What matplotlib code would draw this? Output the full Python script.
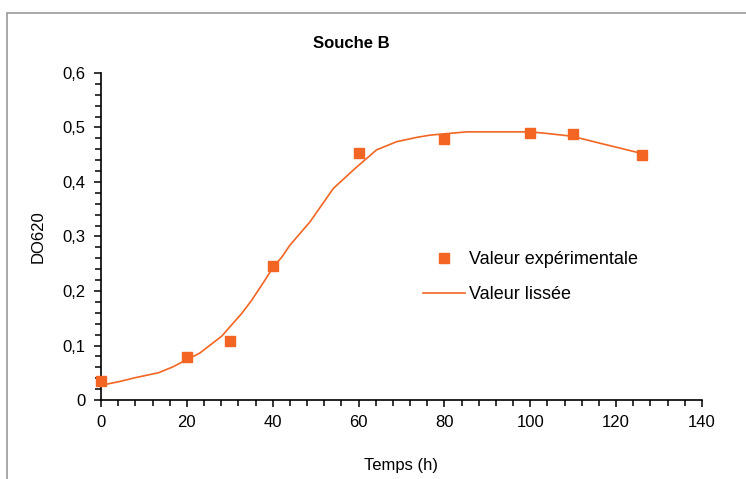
import matplotlib.pyplot as plt
import matplotlib.ticker as mticker
from matplotlib.patches import Rectangle

plt.rcParams['font.family'] = ['Liberation Sans', 'DejaVu Sans']

# valeurs experimentales
t_exp = [0, 20, 30, 40, 60, 80, 100, 110, 126]
do_exp = [0.034, 0.078, 0.109, 0.245, 0.454, 0.478, 0.490, 0.488, 0.450]

# courbe lissee
t_lis = [0, 4.4, 8, 13.4, 16.8, 20.2, 23, 28.1, 32.8, 35.1, 38.2, 40.2, 42.1, 44.0,
         48.7, 54.1, 59.2, 64.2, 68.9, 73.6, 76.7, 85.2, 92, 100, 104, 109.7,
         116.3, 121, 125.6]
do_lis = [0.027, 0.034, 0.041, 0.050, 0.061, 0.075, 0.086, 0.117, 0.159, 0.183,
          0.220, 0.245, 0.262, 0.284, 0.327, 0.388, 0.425, 0.459, 0.474, 0.482,
          0.486, 0.492, 0.492, 0.492, 0.489, 0.484, 0.471, 0.462, 0.453]

orange = '#F26522'

fig = plt.figure(figsize=(7.46, 4.79), dpi=100)
fig.patches.append(Rectangle((7 / 746, -0.05), 1.1, 1 - 13 / 479 + 0.05,
                             transform=fig.transFigure, fill=False,
                             edgecolor='#9a9a9a', linewidth=1.2))
ax = fig.add_axes([101 / 746, 79 / 479, 601 / 746, 327 / 479])

ax.plot(t_exp, do_exp, 's', color=orange, markersize=6.5, label='Valeur expérimentale',
        zorder=3, clip_on=False)
ax.plot(t_lis, do_lis, '-', color=orange, linewidth=1.2, label='Valeur lissée')

ax.set_xlim(0, 140)
ax.set_ylim(0, 0.6)
ax.xaxis.set_major_locator(mticker.MultipleLocator(20))
ax.xaxis.set_minor_locator(mticker.MultipleLocator(4))
ax.yaxis.set_major_locator(mticker.MultipleLocator(0.1))
ax.yaxis.set_minor_locator(mticker.MultipleLocator(0.02))
ax.yaxis.set_major_formatter(mticker.FuncFormatter(
    lambda v, p: '0' if abs(v) < 1e-9 else f'{v:.1f}'.replace('.', ',')))

for s in ['top', 'right']:
    ax.spines[s].set_visible(False)
for s in ['left', 'bottom']:
    ax.spines[s].set_linewidth(1.2)
ax.tick_params(which='major', direction='out', length=5, width=1.1, labelsize=12,
               pad=6)
ax.tick_params(which='minor', direction='out', length=4, width=1.1)

ax.set_xlabel('Temps (h)', fontsize=12, labelpad=20)
ax.set_ylabel('DO620', fontsize=12, labelpad=12)
fig.text(351 / 746, 1 - 43 / 479, 'Souche B', fontsize=12, fontweight='bold',
         ha='center', va='center')

leg = ax.legend(loc='upper left', bbox_to_anchor=(0.536, 0.455), frameon=False,
                fontsize=13, handlelength=2.3, handletextpad=0.25,
                labelspacing=1.0, borderpad=0, borderaxespad=0)

fig.savefig('out.png', dpi=100)
